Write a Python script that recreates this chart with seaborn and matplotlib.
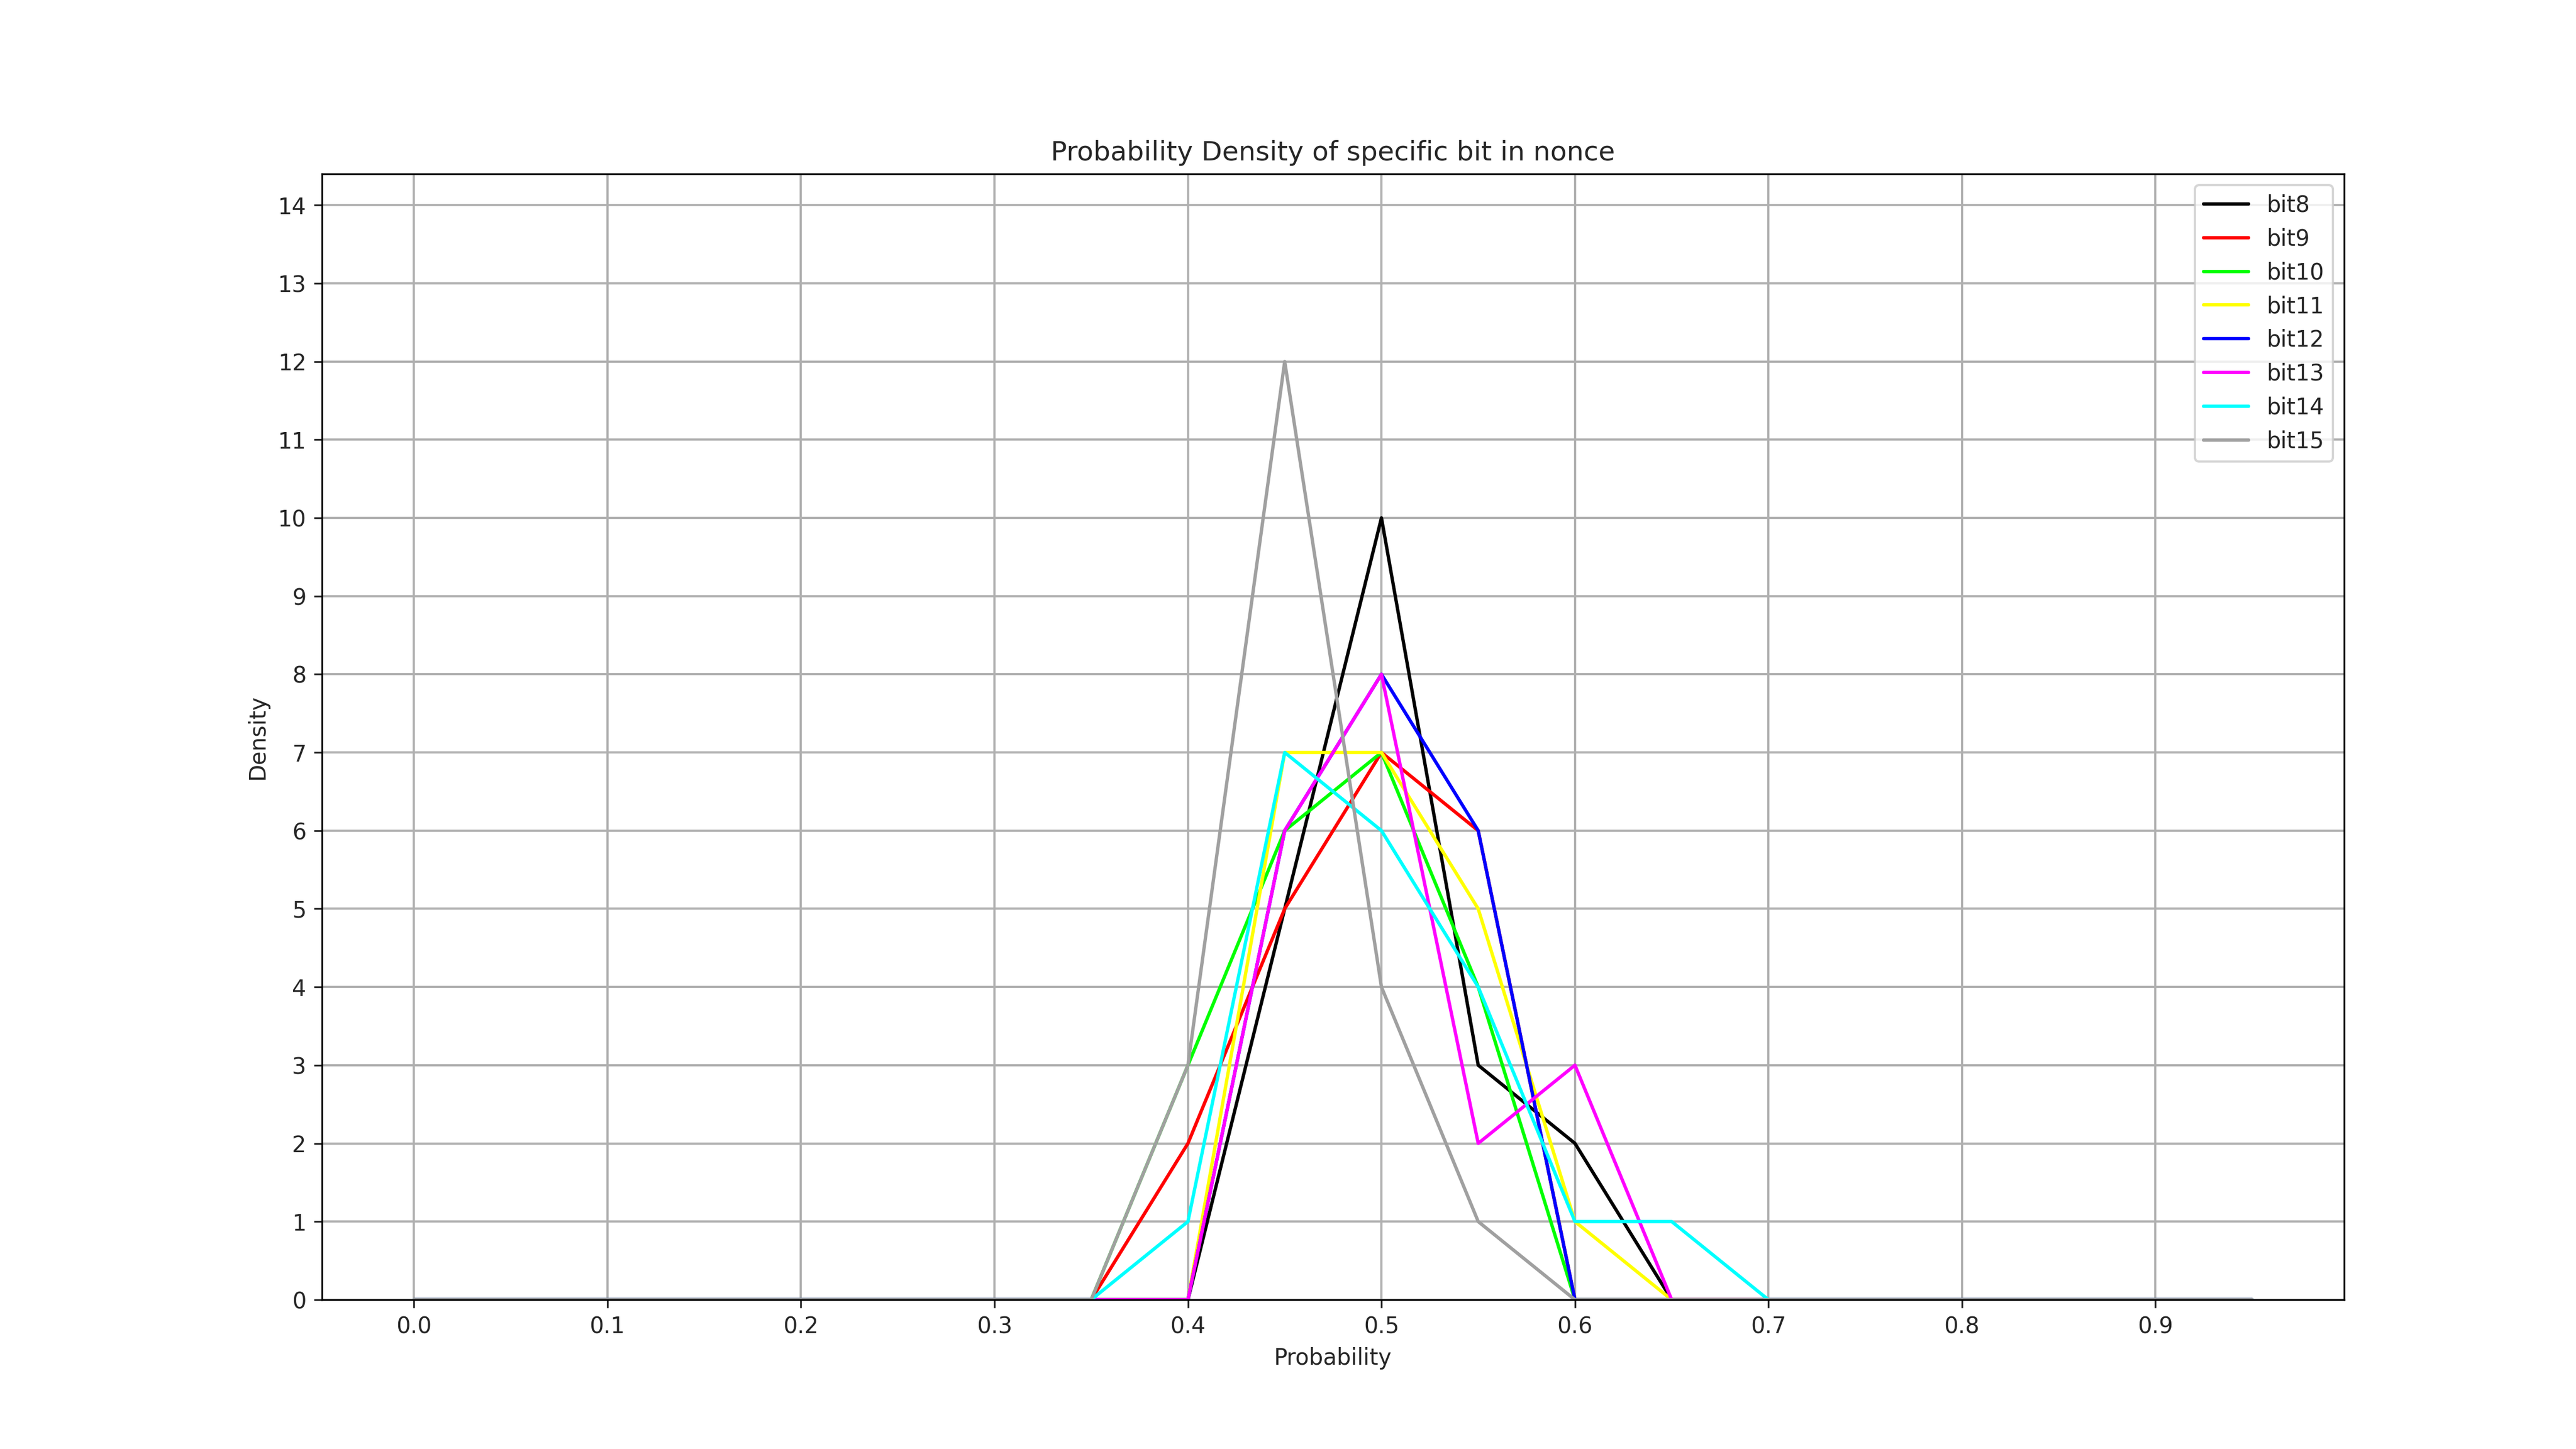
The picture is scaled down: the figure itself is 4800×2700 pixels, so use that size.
import numpy as np
import pandas as pd
import matplotlib
matplotlib.use("Agg")
import matplotlib.pyplot as plt
import seaborn as sns

# probability bins 0.00 .. 0.95
prob = [round(0.05 * i, 2) for i in range(20)]

def pad(vals_from_035):
    # values start at 0.35; everything else is zero
    out = [0] * 20
    for i, v in enumerate(vals_from_035):
        out[7 + i] = v
    return out

bit8 = pad([0, 0, 5, 10, 3, 2, 0])
bit9 = pad([0, 2, 5, 7, 6, 0])
bit10 = pad([0, 3, 6, 7, 4, 0])
bit11 = pad([0, 0, 7, 7, 5, 1, 0])
bit12 = pad([0, 0, 6, 8, 6, 0])
bit13 = pad([0, 0, 6, 8, 2, 3, 0])
bit14 = pad([0, 1, 7, 6, 4, 1, 1, 0])
bit15 = pad([0, 3, 12, 4, 1, 0])

names = ["bit8", "bit9", "bit10", "bit11", "bit12", "bit13", "bit14", "bit15"]
series = [bit8, bit9, bit10, bit11, bit12, bit13, bit14, bit15]
colors = ["black", "red", "lime", "yellow", "blue", "magenta", "cyan", "#a0a0a0"]

df = pd.DataFrame([(p, v, n) for n, s in zip(names, series) for p, v in zip(prob, s)],
                  columns=["Probability", "Density", "bit"])

sns.set_style("ticks")
plt.rcParams['font.family'] = ['DejaVu Sans']

fig, ax = plt.subplots(figsize=(16, 9), dpi=300)
sns.lineplot(data=df, x="Probability", y="Density", hue="bit", hue_order=names,
             palette=colors, linewidth=1.5, ax=ax)
ax.set_xticks(np.arange(0, 0.95, 0.1))
ax.set_yticks(range(0, 15))
ax.set_xlim(-0.0475, 0.9975)
ax.set_ylim(0, 14.4)
ax.grid(True, color="#b0b0b0", linewidth=1)
ax.set_axisbelow(True)
ax.set_title("Probability Density of specific bit in nonce", fontsize=12)
ax.legend(loc="upper right", title=None, fontsize=10)
for sp in ax.spines.values():
    sp.set_visible(True)
    sp.set_color("black")
fig.subplots_adjust(left=0.125, right=0.91, bottom=0.103, top=0.88)
fig.savefig("out.png", dpi=300)
